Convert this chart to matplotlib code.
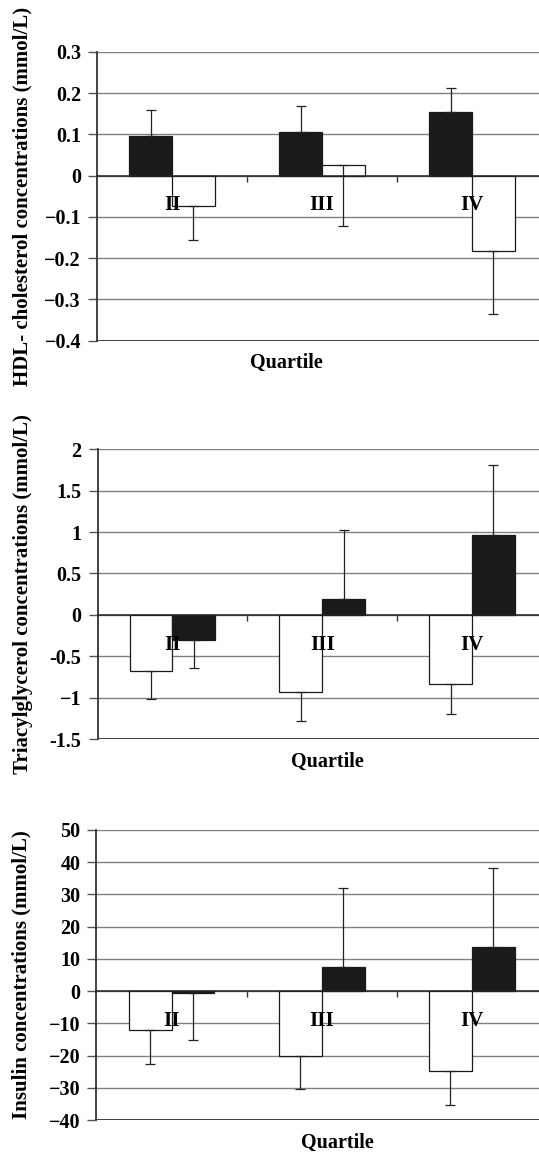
import numpy as np
import matplotlib
matplotlib.use('Agg')
from matplotlib import pyplot as plt

plt.rcParams['font.family'] = ['Liberation Serif', 'DejaVu Serif']
plt.rcParams['font.weight'] = 'bold'

quartiles = ['II', 'III', 'IV']

# HDL panel: black bars on the left, white on the right
hdl_black = [0.096, 0.106, 0.153]
hdl_black_err = [0.063, 0.063, 0.060]
hdl_black_dir = [1, 1, 1]
hdl_white = [-0.074, 0.026, -0.183]
hdl_white_err = [0.083, 0.149, 0.153]
hdl_white_dir = [-1, -1, -1]
hdl_ticks = [0.3, 0.2, 0.1, 0, -0.1, -0.2, -0.3, -0.4]
hdl_ticklabels = ['0.3', '0.2', '0.1', '0', '\u22120.1', '\u22120.2', '\u22120.3', '\u22120.4']

# triacylglycerol panel: white on the left, black on the right
tg_white = [-0.675, -0.935, -0.835]
tg_white_err = [0.335, 0.345, 0.355]
tg_white_dir = [-1, -1, -1]
tg_black = [-0.305, 0.197, 0.965]
tg_black_err = [0.33, 0.833, 0.845]
tg_black_dir = [-1, 1, 1]
tg_ticks = [2, 1.5, 1, 0.5, 0, -0.5, -1, -1.5]
tg_ticklabels = ['2', '1.5', '1', '0.5', '0', '-0.5', '\u22121', '-1.5']

# insulin panel: white on the left, black on the right
ins_white = [-12.0, -20.0, -24.7]
ins_white_err = [10.6, 10.5, 10.5]
ins_white_dir = [-1, -1, -1]
ins_black = [-0.5, 7.5, 13.7]
ins_black_err = [14.6, 24.5, 24.5]
ins_black_dir = [-1, 1, 1]
ins_ticks = [50, 40, 30, 20, 10, 0, -10, -20, -30, -40]
ins_ticklabels = ['50', '40', '30', '20', '10', '0', '\u221210', '\u221220', '\u221230', '\u221240']

W = 1 / 3.5  # excel gap width 150%
x = np.arange(len(quartiles))

fig = plt.figure(figsize=(5.39, 11.55), dpi=100)


def panel(rect, left, right, ticks, ticklabels, ylabel, xlab_x):
    ax = fig.add_axes(rect)
    ax.set_axisbelow(True)
    for off, (vals, err, d, col) in zip([-W / 2, W / 2], [left, right]):
        ax.bar(x + off, vals, W, color=col, edgecolor='#1a1a1a', linewidth=0.9, zorder=2)
        err = np.array(err)
        d = np.array(d)
        lo = np.where(d < 0, err, 0)
        hi = np.where(d > 0, err, 0)
        ax.errorbar(x + off, vals, yerr=[lo, hi], fmt='none', ecolor='#222222',
                    elinewidth=0.9, capsize=3.5, capthick=0.9, zorder=3)
    ax.set_xlim(-0.5, 2.447)
    ax.set_ylim(min(ticks), max(ticks))
    ax.set_yticks(ticks)
    ax.set_yticklabels(ticklabels)
    ax.yaxis.grid(True, color='#808080', linewidth=1.0)
    ax.axhline(min(ticks), color='#333333', linewidth=1.3, zorder=4)
    ax.spines['top'].set_visible(False)
    ax.spines['right'].set_visible(False)
    ax.spines['left'].set_color('#333333')
    ax.spines['left'].set_linewidth(1.3)
    ax.spines['bottom'].set_position(('data', 0))
    ax.spines['bottom'].set_color('#222222')
    ax.spines['bottom'].set_linewidth(1.1)
    ax.spines['bottom'].set_zorder(4)
    ax.set_xticks(x)
    ax.set_xticklabels([])
    ax.set_xticks([0.5, 1.5], minor=True)
    ax.tick_params(axis='x', which='major', length=0)
    ax.tick_params(axis='x', which='minor', length=4, width=1, color='#333333', direction='out')
    ax.tick_params(axis='y', length=6.5, width=1, color='#555555', pad=5, labelsize=14.5)
    # category names sit just under the zero line, on top of the bars
    for i, q in enumerate(quartiles):
        ax.annotate(q, xy=(x[i], 0), xytext=(0, -21.5), textcoords='offset points',
                    ha='center', va='center', fontsize=15, fontweight='bold', zorder=6)
    ax.set_ylabel(ylabel, fontsize=15, fontweight='bold')
    ax.yaxis.set_label_coords(-0.147, 0.5)
    ax.text(xlab_x, -0.078, 'Quartile', transform=ax.transAxes, ha='center', va='center',
            fontsize=14.5, fontweight='bold')
    return ax


panel([0.180, 0.705, 0.820, 0.2502],
      (hdl_black, hdl_black_err, hdl_black_dir, '#1a1a1a'),
      (hdl_white, hdl_white_err, hdl_white_dir, 'white'),
      hdl_ticks, hdl_ticklabels, 'HDL- cholesterol concentrations (mmol/L)', 0.428)

panel([0.181, 0.360, 0.819, 0.2511],
      (tg_white, tg_white_err, tg_white_dir, 'white'),
      (tg_black, tg_black_err, tg_black_dir, '#1a1a1a'),
      tg_ticks, tg_ticklabels, 'Triacylglycerol concentrations (mmol/L)', 0.52)

panel([0.179, 0.0303, 0.821, 0.2511],
      (ins_white, ins_white_err, ins_white_dir, 'white'),
      (ins_black, ins_black_err, ins_black_dir, '#1a1a1a'),
      ins_ticks, ins_ticklabels, 'Insulin concentrations (mmol/L)', 0.544)

fig.savefig('out.png', dpi=100)
